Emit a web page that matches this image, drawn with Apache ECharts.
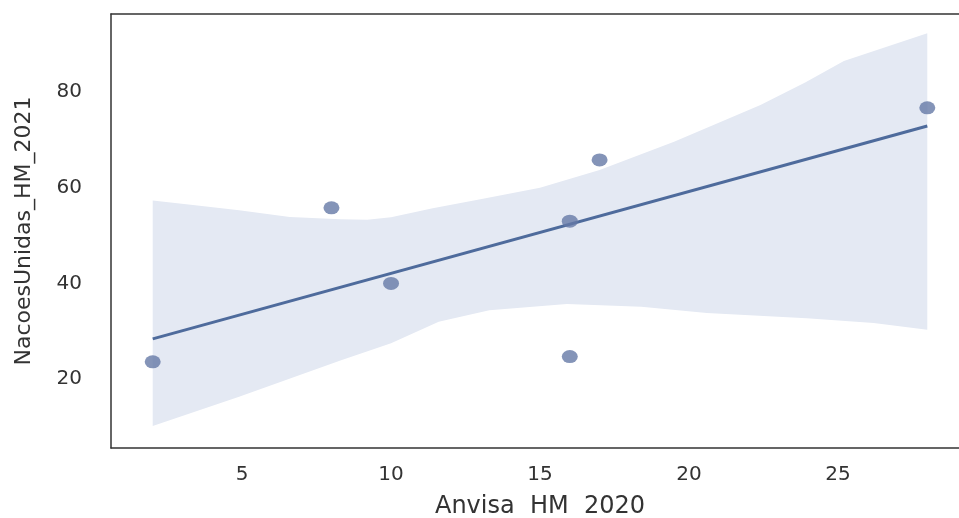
<!DOCTYPE html>
<html>
<head>
<meta charset="utf-8">
<script src="https://cdn.jsdelivr.net/npm/echarts@6/dist/echarts.min.js"></script>
<style>
  html, body { margin: 0; padding: 0; background: #fff; }
  #chart { width: 959px; height: 518px; }
</style>
</head>
<body>
<div id="chart"></div>
<script>
  // 散点数据 (Anvisa_HM_2020, NacoesUnidas_HM_2021)
  var pointsX = [2, 8, 10, 16, 16, 17, 28];
  var pointsY = [23.6, 55.8, 40, 53, 24.7, 65.8, 76.7];

  // 回归线两端
  var lineX = [2, 28];
  var lineY = [28.4, 72.9];

  // 置信区间上沿
  var bandUpX = [2, 3.5, 4.9, 6.6, 8.3, 9.2, 10, 11.4, 13, 15, 17, 19.5, 22.4, 23.9, 25.2, 28];
  var bandUpY = [57.3, 56.3, 55.3, 53.9, 53.4, 53.3, 53.8, 55.7, 57.6, 60, 63.7, 69.6, 77.3, 82, 86.5, 92.3];
  // 置信区间下沿
  var bandLowX = [2, 4.9, 8.3, 10, 11.6, 12.3, 13.3, 15.9, 18.4, 20.6, 23.95, 26.2, 28];
  var bandLowY = [10.2, 16.3, 23.9, 27.5, 32, 33, 34.4, 35.7, 35.1, 33.8, 32.7, 31.7, 30.3];

  // 刻度
  var xTicks = [5, 10, 15, 20, 25];
  var yTicks = [20, 40, 60, 80];

  var zip = function (xs, ys) {
    return xs.map(function (x, i) { return [x, ys[i]]; });
  };

  var frameLine = { show: true, lineStyle: { color: "#333", width: 1.5 } };

  var myChart = echarts.init(document.getElementById("chart"));
  var option = {
    animation: false,
    grid: {
      left: 111,
      top: 14,
      width: 858,
      height: 434,
      outerBoundsMode: "none",
      containLabel: false
    },
    xAxis: [
      {
        type: "value",
        min: 0.6,
        max: 29.4,
        name: "Anvisa  HM  2020",
        nameLocation: "middle",
        nameGap: 47,
        nameTextStyle: { fontFamily: "DejaVu Sans", fontSize: 24, color: "#333" },
        axisLine: frameLine,
        axisTick: { show: false },
        splitLine: { show: false },
        axisLabel: {
          customValues: xTicks,
          margin: 17,
          fontFamily: "DejaVu Sans",
          fontSize: 20,
          color: "#333"
        }
      },
      {
        // 顶部边框
        type: "value",
        position: "top",
        min: 0.6,
        max: 29.4,
        axisLine: frameLine,
        axisTick: { show: false },
        axisLabel: { show: false },
        splitLine: { show: false }
      }
    ],
    yAxis: {
      type: "value",
      min: 5.6,
      max: 96.3,
      name: "NacoesUnidas_HM_2021",
      nameLocation: "middle",
      nameGap: 76,
      nameTextStyle: { fontFamily: "DejaVu Sans", fontSize: 22, color: "#333" },
      axisLine: frameLine,
      axisTick: { show: false },
      splitLine: { show: false },
      axisLabel: {
        customValues: yTicks,
        margin: 29,
        fontFamily: "DejaVu Sans",
        fontSize: 20,
        color: "#333"
      }
    },
    series: [
      {
        // 置信区间带
        type: "custom",
        data: [0],
        silent: true,
        z: 1,
        renderItem: function (params, api) {
          var pts = [];
          bandUpX.forEach(function (x, i) { pts.push(api.coord([x, bandUpY[i]])); });
          for (var i = bandLowX.length - 1; i >= 0; i--) {
            pts.push(api.coord([bandLowX[i], bandLowY[i]]));
          }
          return {
            type: "polygon",
            shape: { points: pts },
            style: { fill: "#e4e9f3" }
          };
        }
      },
      {
        // 回归线
        type: "line",
        data: zip(lineX, lineY),
        showSymbol: false,
        z: 3,
        lineStyle: { color: "#4e6b9c", width: 3 }
      },
      {
        type: "scatter",
        data: zip(pointsX, pointsY),
        symbolSize: [16, 13],
        z: 4,
        itemStyle: { color: "#6579a6" }
      }
    ]
  };
  myChart.setOption(option);
</script>
</body>
</html>
